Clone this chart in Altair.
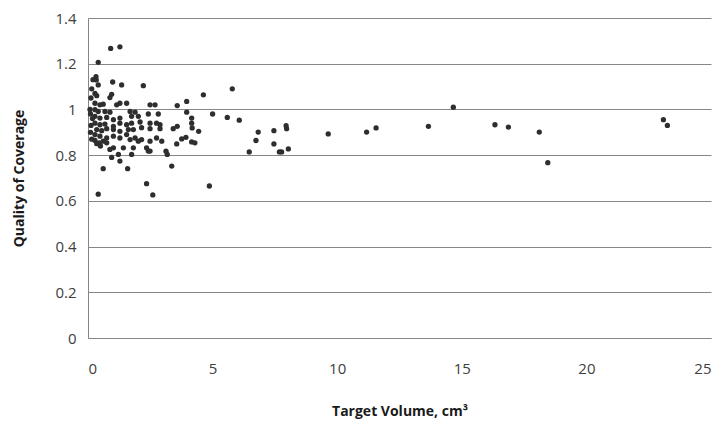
import altair as alt
import pandas as pd

volume = [
    0.91, 1.28, 0.41, 0.32, 0.33, 0.41, 0.99, 1.35, 2.22, 0.28, 0.35, 0.95, 0.88,
    4.63, 5.79, 3.58, 3.96, 3.96, 4.16, 4.16, 4.18, 5.0, 5.59, 6.07, 3.42, 3.58,
    4.44, 3.93, 3.76, 3.56, 4.16, 4.29, 6.83, 6.74, 6.47, 7.46, 7.95, 7.97, 7.46,
    7.68, 7.77, 8.04, 3.36, 4.87,
    9.64, 11.18, 11.56, 13.66, 14.66, 16.33, 16.87, 18.11, 18.45, 23.09, 23.25,
    0.28, 0.48, 0.61, 1.15, 1.28, 1.55, 2.49, 2.69,
    0.28, 0.41, 0.68, 0.88, 1.69, 1.89, 2.42, 2.82,
    0.28, 0.48, 0.75, 1.02, 1.28, 1.75, 2.02,
    0.28, 0.48, 0.68, 1.02, 1.28, 1.55, 1.75, 2.09, 2.49, 2.75, 2.89,
    0.35, 0.55, 0.75, 1.02, 1.28, 1.62, 1.82, 2.15, 2.49, 2.89,
    0.28, 0.48, 0.75, 1.02, 1.28, 1.55, 1.69, 1.89, 2.15, 2.49, 2.75, 2.96,
    0.28, 0.45, 0.61, 0.75, 0.88, 1.02, 1.42, 1.22, 1.28, 1.82, 2.02, 2.35,
    2.42, 2.49, 3.13, 3.18, 1.75, 0.61, 1.59, 2.35, 2.6, 0.41,
    0.12, 0.15, 0.1, 0.12, 0.1, 0.15, 0.2, 0.08, 0.18, 0.35, 0.5, 0.95,
]
quality = [
    1.267, 1.274, 1.206, 1.143, 1.129, 1.107, 1.12, 1.107, 1.104, 1.07, 1.06, 1.066, 1.052,
    1.064, 1.09, 1.017, 1.035, 0.988, 0.962, 0.94, 0.919, 0.98, 0.965, 0.953, 0.916, 0.926,
    0.904, 0.878, 0.871, 0.849, 0.858, 0.854, 0.901, 0.864, 0.814, 0.907, 0.929, 0.916, 0.849,
    0.814, 0.814, 0.827, 0.752, 0.665,
    0.893, 0.901, 0.919, 0.926, 1.01, 0.933, 0.923, 0.901, 0.767, 0.955, 0.93,
    1.027, 1.02, 1.023, 1.02, 1.027, 1.027, 1.02, 1.02,
    0.999, 0.991, 0.991, 0.988, 0.991, 0.988, 0.98, 0.98,
    0.97, 0.962, 0.965, 0.955, 0.962, 0.97, 0.97,
    0.94, 0.933, 0.936, 0.926, 0.94, 0.933, 0.94, 0.945, 0.94, 0.94, 0.933,
    0.912, 0.907, 0.916, 0.912, 0.904, 0.912, 0.912, 0.92, 0.916, 0.916,
    0.89, 0.883, 0.875, 0.883, 0.875, 0.89, 0.868, 0.875, 0.868, 0.861, 0.875, 0.861,
    0.864, 0.854, 0.861, 0.854, 0.825, 0.832, 0.832, 0.803, 0.774, 0.832, 0.861, 0.832,
    0.818, 0.818, 0.817, 0.803, 0.803, 0.741, 0.741, 0.675, 0.626, 0.629,
    1.05, 1.09, 0.98, 0.93, 0.9, 0.87, 1.13, 1.0, 0.96, 0.85, 0.84, 0.79,
]

df = pd.DataFrame({"volume": volume, "quality": quality})

font = "Open Sans"

chart = (
    alt.Chart(df)
    .mark_circle(size=28, color="#2e2e2e", opacity=1)
    .encode(
        x=alt.X(
            "volume:Q",
            scale=alt.Scale(domain=[0, 25], nice=False),
            axis=alt.Axis(
                values=[0, 5, 10, 15, 20, 25],
                title="Target Volume, cm³",
                grid=False,
                ticks=False,
                domainColor="#868686",
                labelPadding=23,
                labelFontSize=15,
                labelColor="#404040",
                labelFont=font,
                titleFont=font,
                titleFontSize=14,
                titleFontWeight="bold",
                titleColor="#1a1a1a",
                titlePadding=28,
            ),
        ),
        y=alt.Y(
            "quality:Q",
            scale=alt.Scale(domain=[0, 1.4], nice=False),
            axis=alt.Axis(
                values=[0, 0.2, 0.4, 0.6, 0.8, 1.0, 1.2, 1.4],
                format="~g",
                title="Quality of Coverage",
                grid=True,
                gridColor="#868686",
                gridWidth=1,
                ticks=False,
                domainColor="#868686",
                labelPadding=12,
                labelFontSize=15,
                labelColor="#404040",
                labelFont=font,
                titleFont=font,
                titleFontSize=14,
                titleFontWeight="bold",
                titleColor="#1a1a1a",
                titlePadding=28,
            ),
        ),
    )
    .properties(
        width=623,
        height=320,
        autosize=alt.AutoSizeParams(type="none"),
        padding={"left": 80, "top": 10, "right": 7, "bottom": 86},
    )
    .configure_view(stroke=None)
)

chart.save("out.html", embed_options={"renderer": "svg", "actions": False})
